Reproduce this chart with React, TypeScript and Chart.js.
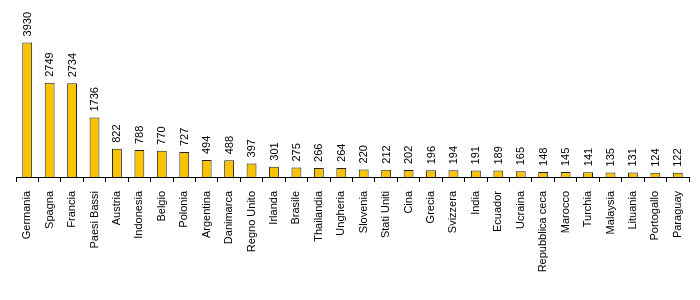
import React, { useEffect, useRef } from "react";
import { Chart, registerables } from "chart.js";

Chart.register(...registerables);

const categories = [
  "Germania", "Spagna", "Francia", "Paesi Bassi", "Austria", "Indonesia", "Belgio", "Polonia",
  "Argentina", "Danimarca", "Regno Unito", "Irlanda", "Brasile", "Thailandia", "Ungheria",
  "Slovenia", "Stati Uniti", "Cina", "Grecia", "Svizzera", "India", "Ecuador", "Ucraina",
  "Repubblica ceca", "Marocco", "Turchia", "Malaysia", "Lituania", "Portogallo", "Paraguay",
];
const values = [
  3930, 2749, 2734, 1736, 822, 788, 770, 727, 494, 488, 397, 301, 275, 266, 264,
  220, 212, 202, 196, 194, 191, 189, 165, 148, 145, 141, 135, 131, 124, 122,
];

const FONT = "Arial, 'Liberation Sans', sans-serif";

const valueLabels = {
  id: "valueLabels",
  afterDatasetsDraw(chart: any) {
    const ctx = chart.ctx;
    const meta = chart.getDatasetMeta(0);
    ctx.save();
    ctx.font = `11px ${FONT}`;
    ctx.fillStyle = "#000";
    ctx.textAlign = "left";
    ctx.textBaseline = "middle";
    meta.data.forEach((bar: any, i: number) => {
      ctx.save();
      ctx.translate(bar.x + 0.5, bar.y - 6);
      ctx.rotate(-Math.PI / 2);
      ctx.fillText(String(values[i]), 0, 0);
      ctx.restore();
    });
    ctx.restore();
  },
};

export default function App() {
  const ref = useRef<HTMLCanvasElement>(null);
  useEffect(() => {
    document.body.style.margin = "0";
    const chart = new Chart(ref.current!, {
      type: "bar",
      data: {
        labels: categories,
        datasets: [
          {
            data: values,
            backgroundColor: "#F9C300",
            borderColor: "#222",
            borderWidth: 1,
            barPercentage: 0.44,
            categoryPercentage: 1,
          },
        ],
      },
      options: {
        animation: false,
        responsive: false,
        maintainAspectRatio: false,
        layout: { padding: { top: 40, left: 16, right: 1, bottom: 0 } },
        plugins: { legend: { display: false }, tooltip: { enabled: false } },
        scales: {
          x: {
            afterFit(scale: any) {
              scale.height = 123;
            },
            border: { display: true, color: "#000", width: 1 },
            grid: {
              display: true,
              drawOnChartArea: false,
              drawTicks: true,
              tickLength: 5,
              color: "#000",
            },
            ticks: {
              minRotation: 90,
              maxRotation: 90,
              autoSkip: false,
              padding: 9,
              color: "#000",
              font: { family: FONT, size: 11 },
            },
          },
          y: {
            display: false,
            min: 0,
            max: 4000,
          },
        },
      },
      plugins: [valueLabels],
    });
    return () => chart.destroy();
  }, []);
  return (
    <div style={{ position: "absolute", left: 0, top: 0, width: 700, height: 300 }}>
      <canvas ref={ref} width={700} height={300} />
    </div>
  );
}
